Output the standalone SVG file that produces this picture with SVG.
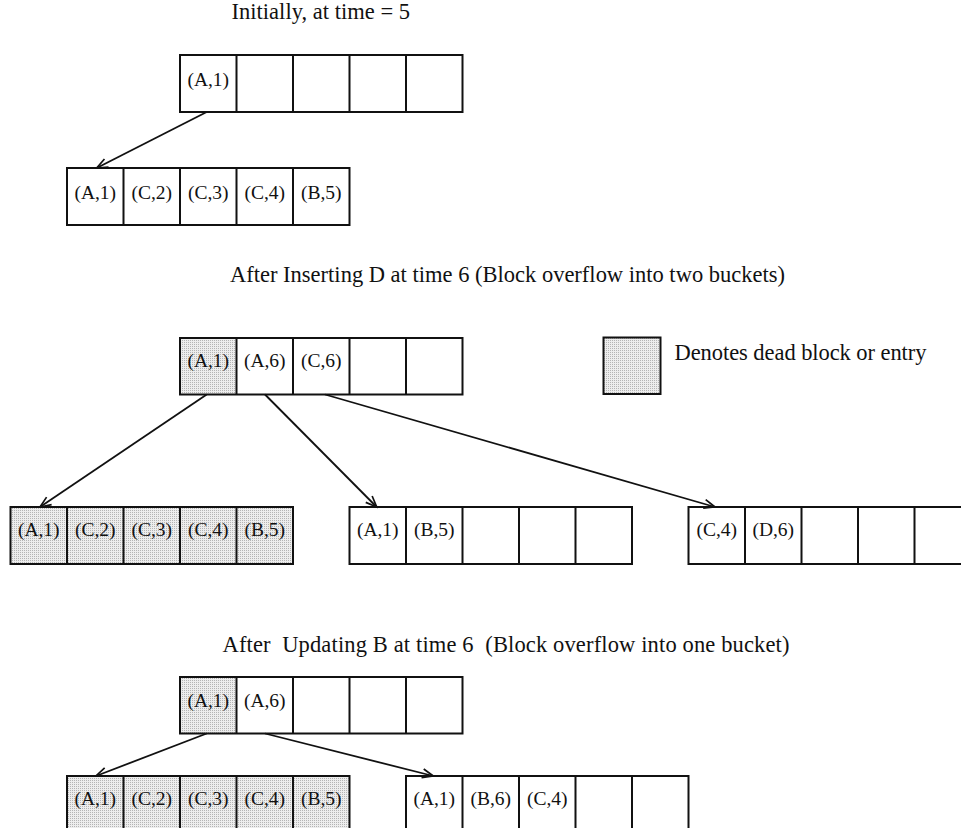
<svg xmlns="http://www.w3.org/2000/svg" width="961" height="828" viewBox="0 0 961 828">
<defs>
<pattern id="dots" width="2" height="2" patternUnits="userSpaceOnUse">
<rect width="2" height="2" fill="#ededed"/>
<rect width="1" height="1" fill="#b4b4b4"/>
</pattern>
<marker id="arr" markerWidth="14" markerHeight="12" refX="12" refY="6" orient="auto" markerUnits="userSpaceOnUse">
<path d="M1,1.5 L12,6 L1,10.5" fill="none" stroke="#111" stroke-width="1.7"/>
</marker>
</defs>
<style>
.box{fill:none;stroke:#111;stroke-width:2}
.dead{fill:url(#dots);stroke:none}
.div{stroke:#111;stroke-width:2}
.cell{font-family:"Liberation Serif","Times New Roman",serif;font-size:19.5px;fill:#111;text-anchor:middle}
.title{font-family:"Liberation Serif","Times New Roman",serif;font-size:22.5px;fill:#111}
.edge{fill:none;stroke:#111;stroke-width:1.8;marker-end:url(#arr)}
</style>
<rect width="961" height="828" fill="#fff"/>

<text class="title" x="231.5" y="18.5" textLength="178.5" lengthAdjust="spacing">Initially, at time = 5</text>
<text class="title" x="230" y="281.5" textLength="555" lengthAdjust="spacing">After Inserting D at time 6 (Block overflow into two buckets)</text>
<text class="title" x="222.5" y="651.5" xml:space="preserve" textLength="567" lengthAdjust="spacing">After  Updating B at time 6  (Block overflow into one bucket)</text>

<!-- Section 1 -->
<g id="s1-root">
<rect class="box" x="180" y="55" width="282.5" height="57"/>
<path class="div" d="M236.5,55V112M293,55V112M349.5,55V112M406,55V112"/>
<text class="cell" x="208.25" y="85.5">(A,1)</text>
</g>
<g id="s1-child">
<rect class="box" x="67" y="168" width="282.5" height="57"/>
<path class="div" d="M123.5,168V225M180,168V225M236.5,168V225M293,168V225"/>
<text class="cell" x="95.25" y="198.5">(A,1)</text>
<text class="cell" x="151.75" y="198.5">(C,2)</text>
<text class="cell" x="208.25" y="198.5">(C,3)</text>
<text class="cell" x="264.75" y="198.5">(C,4)</text>
<text class="cell" x="321.25" y="198.5">(B,5)</text>
</g>

<!-- Section 2 -->
<g id="s2-root">
<rect class="dead" x="180" y="338" width="56.5" height="56.5"/>
<rect class="box" x="180" y="338" width="282.5" height="56.5"/>
<path class="div" d="M236.5,338V394.5M293,338V394.5M349.5,338V394.5M406,338V394.5"/>
<text class="cell" x="208.25" y="367">(A,1)</text>
<text class="cell" x="264.75" y="367">(A,6)</text>
<text class="cell" x="321.25" y="367">(C,6)</text>
</g>
<g id="legend">
<rect class="dead" x="603.5" y="337.5" width="57" height="56.5"/>
<rect class="box" x="603.5" y="337.5" width="57" height="56.5"/>
<text class="title" x="674.5" y="359.5" textLength="252" lengthAdjust="spacing">Denotes dead block or entry</text>
</g>
<g id="s2-child-left">
<rect class="dead" x="10.5" y="507" width="282.5" height="57"/>
<rect class="box" x="10.5" y="507" width="282.5" height="57"/>
<path class="div" d="M67,507V564M123.5,507V564M180,507V564M236.5,507V564"/>
<text class="cell" x="38.75" y="536">(A,1)</text>
<text class="cell" x="95.25" y="536">(C,2)</text>
<text class="cell" x="151.75" y="536">(C,3)</text>
<text class="cell" x="208.25" y="536">(C,4)</text>
<text class="cell" x="264.75" y="536">(B,5)</text>
</g>
<g id="s2-child-mid">
<rect class="box" x="349.5" y="507" width="282.5" height="57"/>
<path class="div" d="M406,507V564M462.5,507V564M519,507V564M575.5,507V564"/>
<text class="cell" x="377.75" y="536">(A,1)</text>
<text class="cell" x="434.25" y="536">(B,5)</text>
</g>
<g id="s2-child-right">
<rect class="box" x="688.5" y="507" width="282.5" height="57"/>
<path class="div" d="M745,507V564M801.5,507V564M858,507V564M914.5,507V564"/>
<text class="cell" x="716.75" y="536">(C,4)</text>
<text class="cell" x="773.25" y="536">(D,6)</text>
</g>

<!-- Section 3 -->
<g id="s3-root">
<rect class="dead" x="180" y="677" width="56.5" height="56.5"/>
<rect class="box" x="180" y="677" width="282.5" height="56.5"/>
<path class="div" d="M236.5,677V733.5M293,677V733.5M349.5,677V733.5M406,677V733.5"/>
<text class="cell" x="208.25" y="706.5">(A,1)</text>
<text class="cell" x="264.75" y="706.5">(A,6)</text>
</g>
<g id="s3-child-left">
<rect class="dead" x="67" y="776" width="282.5" height="57"/>
<rect class="box" x="67" y="776" width="282.5" height="57"/>
<path class="div" d="M123.5,776V833M180,776V833M236.5,776V833M293,776V833"/>
<text class="cell" x="95.25" y="805">(A,1)</text>
<text class="cell" x="151.75" y="805">(C,2)</text>
<text class="cell" x="208.25" y="805">(C,3)</text>
<text class="cell" x="264.75" y="805">(C,4)</text>
<text class="cell" x="321.25" y="805">(B,5)</text>
</g>
<g id="s3-child-right">
<rect class="box" x="406" y="776" width="282.5" height="57"/>
<path class="div" d="M462.5,776V833M519,776V833M575.5,776V833M632,776V833"/>
<text class="cell" x="434.25" y="805">(A,1)</text>
<text class="cell" x="490.75" y="805">(B,6)</text>
<text class="cell" x="547.25" y="805">(C,4)</text>
</g>

<g id="connectors">
<path class="edge" d="M206.7,112 L96.7,168"/>
<path class="edge" d="M206.7,394.5 L40,507"/>
<path class="edge" d="M265,394.5 L376.7,507"/>
<path class="edge" d="M325,394.5 L715,507"/>
<path class="edge" d="M206.7,733.5 L96,776"/>
<path class="edge" d="M265,733.5 L433.3,776"/>
</g>
</svg>
